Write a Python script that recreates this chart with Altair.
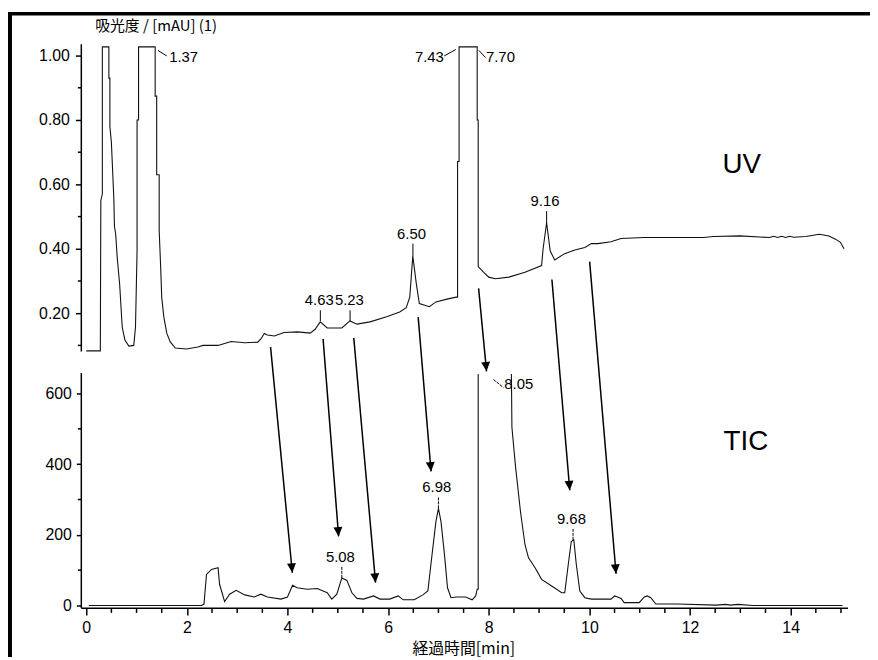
import math
import altair as alt
import pandas as pd

# ---------------- chart geometry (whole page area) ----------------
W, H = 870, 652
X_DOMAIN = [-1.555, 15.577]        # minutes
UV_DOMAIN = [-0.8677, 1.1385]      # absorbance
TIC_DOMAIN = [-145.9, 1683.0]      # TIC counts

LABEL_FONT = "Liberation Sans"
CJK_FONT = "Noto Sans CJK JP"

# ---------------- data ----------------
uv_time = [0.00, 0.28, 0.29, 0.32, 0.32, 0.45, 0.45, 0.47, 0.47, 0.50, 0.55, 0.56,
           0.585, 0.616, 0.664, 0.715, 0.768, 0.847, 0.945, 0.979, 1.01, 1.01, 1.04,
           1.04, 1.37, 1.37, 1.40, 1.40, 1.45, 1.45, 1.48, 1.50, 1.54, 1.60, 1.67,
           1.77, 1.99, 2.22, 2.32, 2.62, 2.88, 3.15, 3.41, 3.47, 3.54, 3.60, 3.74,
           3.93, 4.20, 4.45, 4.55, 4.65, 4.79, 5.08, 5.24, 5.38, 5.64, 5.97, 6.23,
           6.36, 6.43, 6.49, 6.56, 6.62, 6.82, 6.95, 7.15, 7.35, 7.38, 7.38, 7.41,
           7.41, 7.77, 7.77, 7.79, 7.79, 7.90, 8.00, 8.13, 8.40, 8.72, 9.05, 9.08,
           9.15, 9.22, 9.31, 9.51, 9.71, 9.91, 10.04, 10.17, 10.43, 10.63, 11.09,
           12.27, 12.47, 12.99, 13.58, 13.66, 13.74, 13.82, 13.90, 13.98, 14.06,
           14.30, 14.57, 14.76, 14.89, 14.99, 15.06]
uv_abs = [0.083, 0.083, 0.55, 0.57, 1.027, 1.027, 0.93, 0.93, 0.78, 0.73, 0.55, 0.47,
          0.446, 0.372, 0.29, 0.157, 0.117, 0.098, 0.100, 0.157, 0.394, 0.80, 0.80,
          1.027, 1.027, 0.874, 0.874, 0.63, 0.63, 0.455, 0.34, 0.25, 0.19, 0.138, 0.111,
          0.092, 0.089, 0.095, 0.100, 0.100, 0.112, 0.108, 0.110, 0.120, 0.137, 0.132, 0.129,
          0.140, 0.142, 0.138, 0.150, 0.173, 0.154, 0.154, 0.176, 0.166, 0.173, 0.189, 0.204,
          0.217, 0.250, 0.378, 0.292, 0.230, 0.220, 0.235, 0.243, 0.250, 0.250, 0.671, 0.671,
          1.027, 1.027, 0.80, 0.80, 0.345, 0.327, 0.312, 0.307, 0.312, 0.327, 0.348, 0.40,
          0.481, 0.394, 0.365, 0.385, 0.396, 0.404, 0.416, 0.416, 0.422, 0.432, 0.435,
          0.435, 0.438, 0.440, 0.435, 0.439, 0.435, 0.439, 0.435, 0.439, 0.436,
          0.438, 0.445, 0.440, 0.430, 0.420, 0.400]

tic_time = [0.05, 2.29, 2.34, 2.39, 2.49, 2.62, 2.65, 2.75, 2.85, 2.98, 3.15, 3.34,
            3.47, 3.60, 3.87, 4.00, 4.10, 4.19, 4.39, 4.59, 4.79, 4.88, 4.98, 5.08,
            5.18, 5.28, 5.38, 5.51, 5.71, 5.84, 6.03, 6.20, 6.30, 6.52, 6.69, 6.79,
            6.85, 6.95, 7.00, 7.05, 7.12, 7.18, 7.25, 7.35, 7.54, 7.67, 7.74, 7.77,
            7.79, 7.79, 8.05, 8.45, 8.46, 8.53, 8.63, 8.72, 8.79, 8.92, 9.05, 9.25,
            9.45, 9.51, 9.58, 9.64, 9.69, 9.74, 9.81, 9.91, 10.04, 10.43, 10.50, 10.56,
            10.63, 10.69, 10.99, 11.09, 11.15, 11.22, 11.32, 11.74, 12.53, 12.70,
            12.80, 12.95, 13.25, 15.03]
tic_int = [0, 0, 4, 88, 102, 107, 60, 11, 32, 43, 30, 24,
           32, 24, 18, 24, 57, 50, 46, 48, 36, 18, 32, 78,
           71, 36, 20, 18, 27, 18, 18, 27, 16, 16, 30, 41,
           116, 238, 275, 238, 144, 50, 22, 24, 24, 16, 27, 46,
           46, 655, None, 655, 505, 396, 266, 172, 135, 107, 74, 55,
           36, 36, 116, 181, 186, 116, 41, 22, 18, 18, 27, 24,
           20, 8, 8, 24, 27, 22, 4, 4, 1, 3,
           1, 3, 0, 0]

uv_major = [0.2, 0.4, 0.6, 0.8, 1.0]
uv_minor = [0.1, 0.3, 0.5, 0.7, 0.9]
tic_major = [0, 200, 400, 600]
tic_minor = [100, 300, 500]
x_major = [0, 2, 4, 6, 8, 10, 12, 14]
x_minor = [0.5, 1, 1.5, 2.5, 3, 3.5, 4.5, 5, 5.5, 6.5, 7, 7.5, 8.5, 9, 9.5,
           10.5, 11, 11.5, 12.5, 13, 13.5, 14.5, 15]

uv_peak_text = ["1.37", "7.43", "7.70", "6.50", "4.63", "5.23", "9.16"]
uv_peak_t = [1.936, 6.820, 8.232, 6.465, 4.63, 5.23, 9.118]
uv_peak_v = [0.996, 0.997, 0.997, 0.445, 0.240, 0.240, 0.548]
uv_lead_t1 = [1.424, 7.115, 7.804, 6.493, 4.653, 5.244, 9.15]
uv_lead_v1 = [1.016, 0.999, 1.016, 0.378, 0.176, 0.176, 0.480]
uv_lead_t2 = [1.601, 7.345, 7.936, 6.493, 4.653, 5.244, 9.15]
uv_lead_v2 = [0.999, 1.019, 0.994, 0.416, 0.209, 0.209, 0.517]

tic_peak_text = ["8.05", "6.98", "5.08", "9.68"]
tic_peak_t = [8.596, 6.967, 5.051, 9.643]
tic_peak_y = [625.5, 335.8, 136.6, 244.9]
tic_lead_t1 = [8.094, 7.00, 5.08, 9.675]
tic_lead_y1 = [639.6, 275.0, 78.5, 186.0]
tic_lead_t2 = [8.291, 7.00, 5.08, 9.675]
tic_lead_y2 = [617.1, 308.6, 112.2, 218.8]

# arrows from UV peaks down to matching TIC peaks (in TIC units)
arrow_t1 = [3.663, 4.707, 5.317, 6.597, 7.798, 9.255, 10.005]
arrow_y1 = [732.1, 754.6, 757.4, 816.3, 897.6, 922.9, 973.3]
arrow_t2 = [4.096, 5.016, 5.750, 6.853, 7.956, 9.610, 10.530]
arrow_y2 = [92.6, 195.5, 64.5, 379.5, 662.8, 326.2, 89.8]

uv_axis_span = [0.081, 1.035]
tic_axis_span = [-7.6, 658.0]
x_axis_span = [-0.098, 15.14]

# ---------------- helpers ----------------
px_per_min = W / (X_DOMAIN[1] - X_DOMAIN[0])
px_per_tic = H / (TIC_DOMAIN[1] - TIC_DOMAIN[0])
angles = []
for t1, y1, t2, y2 in zip(arrow_t1, arrow_y1, arrow_t2, arrow_y2):
    dx = (t2 - t1) * px_per_min
    dy = (y1 - y2) * px_per_tic
    angles.append((360 - math.degrees(math.atan2(dx, dy))) % 360)

X_AXIS = alt.Axis(values=x_major, orient="bottom", offset=-49.3, domain=False,
                  grid=False, tickSize=7, tickWidth=1.5, tickColor="black",
                  labelFont=LABEL_FONT, labelFontSize=16, labelColor="black",
                  labelPadding=5, title="経過時間[min]", titleFont=CJK_FONT,
                  titleFontSize=16, titleFontWeight="normal", titleColor="black",
                  titleX=459.5, titleY=40.5, titleAlign="center",
                  titleBaseline="middle", titleAngle=0)
UV_AXIS = alt.Axis(values=uv_major, format=".2f", orient="left", offset=-74,
                   domain=False, grid=False, tickSize=6, tickWidth=1.5,
                   tickColor="black", labelFont=LABEL_FONT, labelFontSize=16,
                   labelColor="black", labelPadding=6,
                   title="吸光度 / [mAU] (1)", titleFont=CJK_FONT, titleFontSize=15,
                   titleFontWeight="normal", titleColor="black", titleAngle=0,
                   titleX=75, titleY=15, titleAlign="center", titleBaseline="middle")
TIC_AXIS = alt.Axis(values=tic_major, format="d", orient="left", offset=-74,
                    domain=False, grid=False, tickSize=5, tickWidth=1.5,
                    tickColor="black", labelFont=LABEL_FONT, labelFontSize=16,
                    labelColor="black", labelPadding=5, title=None)

XS = alt.Scale(domain=X_DOMAIN, nice=False, zero=False)
UVS = alt.Scale(domain=UV_DOMAIN, nice=False, zero=False)
TICS = alt.Scale(domain=TIC_DOMAIN, nice=False, zero=False)


def xq(f):
    return alt.X(f, type="quantitative", scale=XS, axis=X_AXIS)


def uvq(f):
    return alt.Y(f, type="quantitative", scale=UVS, axis=UV_AXIS)


def ticq(f):
    return alt.Y(f, type="quantitative", scale=TICS, axis=TIC_AXIS)


# ---------------- UV panel ----------------
uv_df = pd.DataFrame({"t": uv_time, "v": uv_abs})
uv_line = alt.Chart(uv_df).mark_line(color="#111", strokeWidth=1.1, clip=False).encode(
    x=xq("t"), y=uvq("v"), order="idx:Q"
).transform_window(idx="row_number()")

uv_axis_line = alt.Chart(pd.DataFrame({"a": [uv_axis_span[0]], "b": [uv_axis_span[1]]})).mark_rule(
    color="black", strokeWidth=1.5).encode(x=alt.value(74), y=uvq("a"), y2="b")
uv_minor_ticks = alt.Chart(pd.DataFrame({"v": uv_minor})).mark_rule(
    color="black", strokeWidth=1.5).encode(y=uvq("v"), x=alt.value(70.5), x2=alt.value(74))

uv_lab_df = pd.DataFrame({"t": uv_peak_t, "v": uv_peak_v, "s": uv_peak_text})
uv_labels = alt.Chart(uv_lab_df).mark_text(font=LABEL_FONT, fontSize=15, color="black",
                                           align="center", baseline="middle").encode(
    x=xq("t"), y=uvq("v"), text="s:N")
uv_lead_df = pd.DataFrame({"t1": uv_lead_t1, "v1": uv_lead_v1, "t2": uv_lead_t2, "v2": uv_lead_v2})
uv_leads = alt.Chart(uv_lead_df).mark_rule(color="black", strokeWidth=1).encode(
    x=xq("t1"), y=uvq("v1"), x2="t2", y2="v2")
uv_name = alt.Chart(pd.DataFrame({"t": [13.03], "v": [0.6615], "s": ["UV"]})).mark_text(
    font=LABEL_FONT, fontSize=28, color="black", align="center", baseline="middle").encode(
    x=xq("t"), y=uvq("v"), text="s:N")

uv_layer = alt.layer(uv_line, uv_axis_line, uv_minor_ticks, uv_leads, uv_labels, uv_name)

# ---------------- TIC panel ----------------
tic_df = pd.DataFrame({"t": tic_time, "y": tic_int})
tic_line = alt.Chart(tic_df).mark_line(color="#111", strokeWidth=1.1).encode(
    x=xq("t"), y=ticq("y"), order="idx:Q"
).transform_window(idx="row_number()")

tic_axis_line = alt.Chart(pd.DataFrame({"a": [tic_axis_span[0]], "b": [tic_axis_span[1]]})).mark_rule(
    color="black", strokeWidth=1.5).encode(x=alt.value(74), y=ticq("a"), y2="b")
x_axis_line = alt.Chart(pd.DataFrame({"a": [x_axis_span[0]], "b": [x_axis_span[1]],
                                      "y": [tic_axis_span[0]]})).mark_rule(
    color="black", strokeWidth=1.5).encode(x=xq("a"), x2="b", y=ticq("y"))
tic_minor_ticks = alt.Chart(pd.DataFrame({"y": tic_minor})).mark_rule(
    color="black", strokeWidth=1.5).encode(y=ticq("y"), x=alt.value(70.5), x2=alt.value(74))
x_minor_ticks = alt.Chart(pd.DataFrame({"t": x_minor})).mark_rule(
    color="black", strokeWidth=1.5).encode(x=xq("t"), y=alt.value(602.7), y2=alt.value(607.5))

tic_lab_df = pd.DataFrame({"t": tic_peak_t, "y": tic_peak_y, "s": tic_peak_text})
tic_labels = alt.Chart(tic_lab_df).mark_text(font=LABEL_FONT, fontSize=15, color="black",
                                             align="center", baseline="middle").encode(
    x=xq("t"), y=ticq("y"), text="s:N")
tic_lead_df = pd.DataFrame({"t1": tic_lead_t1, "y1": tic_lead_y1, "t2": tic_lead_t2, "y2": tic_lead_y2})
tic_leads = alt.Chart(tic_lead_df).mark_rule(color="black", strokeWidth=1, strokeDash=[3, 1]).encode(
    x=xq("t1"), y=ticq("y1"), x2="t2", y2="y2")
tic_name = alt.Chart(pd.DataFrame({"t": [13.11], "y": [462.8], "s": ["TIC"]})).mark_text(
    font=LABEL_FONT, fontSize=28, color="black", align="center", baseline="middle").encode(
    x=xq("t"), y=ticq("y"), text="s:N")

arrow_df = pd.DataFrame({"t1": arrow_t1, "y1": arrow_y1, "t2": arrow_t2, "y2": arrow_y2,
                         "ang": angles})
arrow_lines = alt.Chart(arrow_df).mark_rule(color="black", strokeWidth=1.5).encode(
    x=xq("t1"), y=ticq("y1"), x2="t2", y2="y2")
arrow_heads = alt.Chart(arrow_df).mark_point(
    shape="M0,0L-1,-2.1L1,-2.1Z", filled=True, size=81, color="black", opacity=1).encode(
    x=xq("t2"), y=ticq("y2"), angle=alt.Angle("ang:Q", scale=None))

tic_layer = alt.layer(tic_line, tic_axis_line, x_axis_line, tic_minor_ticks, x_minor_ticks,
                      tic_leads, tic_labels, tic_name, arrow_lines, arrow_heads)

# ---------------- frame (left and top border) ----------------
frame_left = alt.Chart(pd.DataFrame({"k": [0]})).mark_rule(color="black", strokeWidth=4).encode(
    x=alt.value(2), y=alt.value(2), y2=alt.value(H))
frame_top = alt.Chart(pd.DataFrame({"k": [0]})).mark_rule(color="black", strokeWidth=3.5).encode(
    x=alt.value(0), x2=alt.value(W), y=alt.value(2.8))

chart = alt.layer(uv_layer, tic_layer, frame_left, frame_top).resolve_scale(
    y="independent"
).properties(
    width=W, height=H, autosize=alt.AutoSizeParams(type="none"), padding=0,
    background="white"
).configure_view(stroke=None)

chart.save("out.html", embed_options={"renderer": "svg", "actions": False})
